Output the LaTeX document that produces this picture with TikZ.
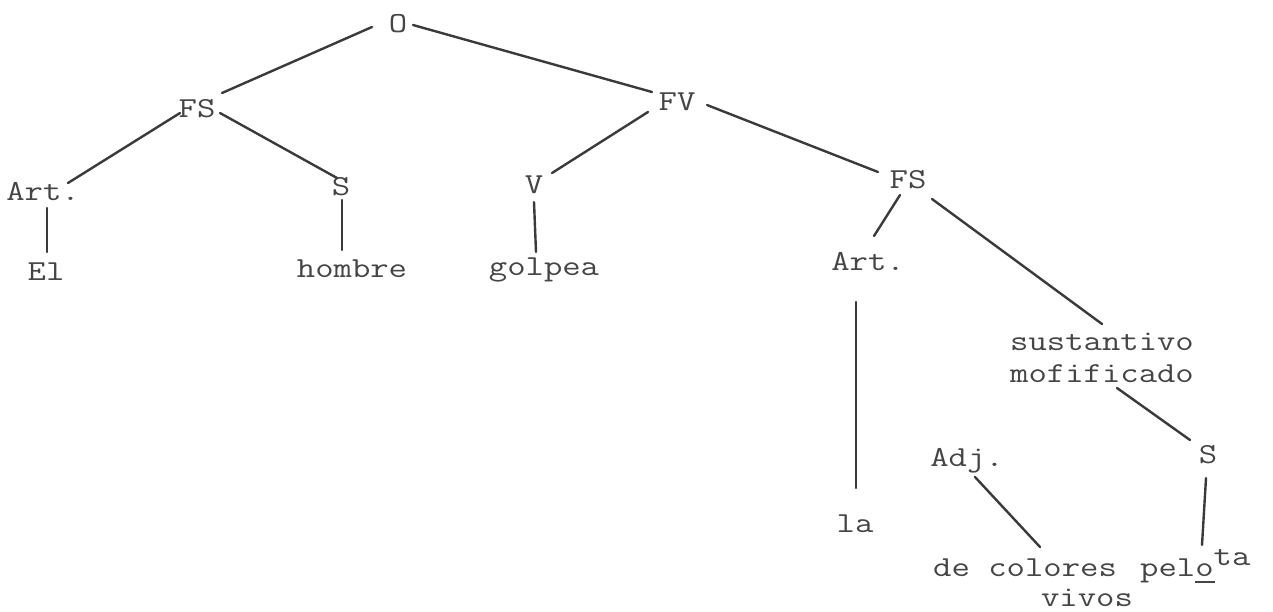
\documentclass[tikz,border=0pt]{standalone}
\usepackage{fontspec}
\newfontfamily\tw[FakeStretch=1.23]{Latin Modern Mono}
\definecolor{ink}{HTML}{3A3A3A}
\definecolor{txt}{HTML}{454545}
\tikzset{
  lbl/.style={font=\tw\fontsize{29}{34}\selectfont, text=txt, inner sep=0pt, anchor=base},
  edge/.style={draw=ink, line width=2.4pt, line cap=round}
}
\begin{document}
\begin{tikzpicture}[x=1pt,y=-1pt]
\useasboundingbox (0,0) rectangle (1273,611);
% nodes
\node[lbl] (O) at (398,32) {O};
\node[lbl] (FSl) at (197,117) {FS};
\node[lbl] (Artl) at (43,200) {Art.};
\node[lbl] (El) at (46,280) {El};
\node[lbl] (Sl) at (341,195) {S};
\node[lbl] (hombre) at (352,277) {hombre};
\node[lbl] (FV) at (677,110) {FV};
\node[lbl] (V) at (534,193) {V};
\node[lbl] (golpea) at (544,275) {golpea};
\node[lbl] (FSr) at (908,188) {FS};
\node[lbl] (Artr) at (868,270) {Art.};
\node[lbl] (la) at (855,532) {la};
\node[lbl] (sust) at (1102,350) {sustantivo};
\node[lbl] (mofi) at (1102,382) {mofificado};
\node[lbl] (Adj) at (967,466) {Adj.};
\node[lbl] (Sr) at (1208,463) {S};
\node[lbl, anchor=base west] (decol) at (933,576) {de colores};
\node[lbl, anchor=base west] (pelota) at (1140,576) {pel\makebox[0pt][l]{\rule[-7pt]{20pt}{2.5pt}}o\raisebox{11pt}{ta}};
\node[lbl] (vivos) at (1087,606) {vivos};
% connectors
\draw[edge] ([shift={(-26,-5)}]O.base) -- ([shift={(25,-24)}]FSl.base);
\draw[edge] ([shift={(15,-7)}]O.base) -- ([shift={(-25,-18)}]FV.base);
\draw[edge] ([shift={(-17,-4)}]FSl.base) -- ([shift={(25,-17)}]Artl.base);
\draw[edge] ([shift={(23,-4)}]FSl.base) -- ([shift={(-4,-17)}]Sl.base);
\draw[edge] ([shift={(4,8)}]Artl.base) -- ([shift={(1,-28)}]El.base);
\draw[edge] ([shift={(1,5)}]Sl.base) -- ([shift={(-10,-27)}]hombre.base);
\draw[edge] ([shift={(-29,2)}]FV.base) -- ([shift={(18,-20)}]V.base);
\draw[edge] ([shift={(0,9)}]V.base) -- ([shift={(-8,-23)}]golpea.base);
\draw[edge] ([shift={(30,-5)}]FV.base) -- ([shift={(-30,-16)}]FSr.base);
\draw[edge] ([shift={(-8,7)}]FSr.base) -- ([shift={(6,-34)}]Artr.base);
\draw[edge] ([shift={(24,11)}]FSr.base) -- ([shift={(0,-26)}]sust.base);
\draw[edge] ([shift={(-12,32)}]Artr.base) -- ([shift={(1,-44)}]la.base);
\draw[edge] ([shift={(15,6)}]mofi.base) -- ([shift={(-18,-23)}]Sr.base);
\draw[edge] ([shift={(8,11)}]Adj.base) -- ([shift={(107,-29)}]decol.base west);
\draw[edge] ([shift={(-2,15)}]Sr.base) -- ([shift={(62,-31)}]pelota.base west);
\end{tikzpicture}
\end{document}
